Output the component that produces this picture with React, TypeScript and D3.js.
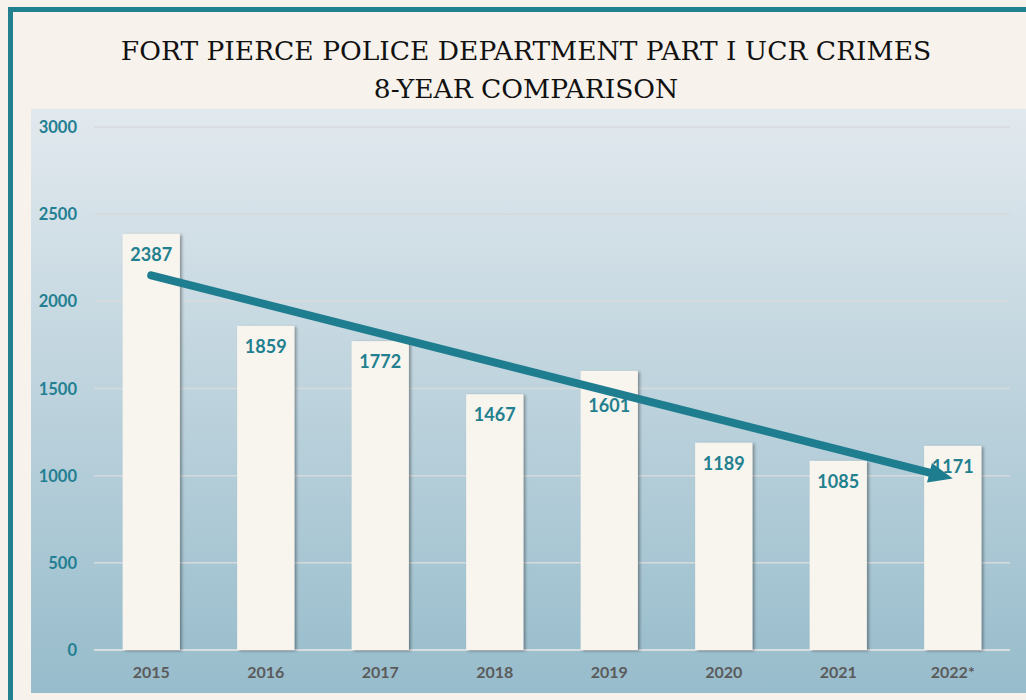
import React, { useEffect, useRef } from "react";
import * as d3 from "d3";

const years = ["2015", "2016", "2017", "2018", "2019", "2020", "2021", "2022*"];
const crimes = [2387, 1859, 1772, 1467, 1601, 1189, 1085, 1171];
const yTicks = [0, 500, 1000, 1500, 2000, 2500, 3000];
const titleLines = ["FORT PIERCE POLICE DEPARTMENT PART I UCR CRIMES", "8-YEAR COMPARISON"];

const W = 1026;
const H = 700;
const teal = "#22808f";

export default function App() {
  const svgRef = useRef<SVGSVGElement>(null);

  useEffect(() => {
    const svg = d3.select(svgRef.current);
    svg.selectAll("*").remove();

    const defs = svg.append("defs");
    const grad = defs.append("linearGradient").attr("id", "bg").attr("x1", 0).attr("y1", 0).attr("x2", 0).attr("y2", 1);
    grad.append("stop").attr("offset", "0%").attr("stop-color", "#e2e9ee");
    grad.append("stop").attr("offset", "100%").attr("stop-color", "#97bccb");
    const f = defs.append("filter").attr("id", "shadow").attr("x", "-20%").attr("y", "-10%").attr("width", "140%").attr("height", "120%");
    f.append("feDropShadow").attr("dx", 2).attr("dy", 1).attr("stdDeviation", 1.5)
      .attr("flood-color", "#000").attr("flood-opacity", 0.35);

    // page + frame
    svg.append("rect").attr("width", W).attr("height", H).attr("fill", "#f7f3ec");
    svg.append("rect").attr("x", 8).attr("y", 7).attr("width", W).attr("height", 5).attr("fill", "#23808f");
    svg.append("rect").attr("x", 8).attr("y", 7).attr("width", 5).attr("height", H).attr("fill", "#23808f");

    // title
    svg.selectAll("text.title")
      .data(titleLines)
      .join("text")
      .attr("class", "title")
      .attr("x", 526)
      .attr("y", (d, i) => 60 + i * 38)
      .attr("text-anchor", "middle")
      .attr("font-family", "DejaVu Serif, serif")
      .attr("font-size", 26.5)
      .attr("fill", "#111")
      .text(d => d);

    // plot background
    svg.append("rect").attr("x", 31).attr("y", 109).attr("width", W - 31).attr("height", 584).attr("fill", "url(#bg)");

    const x = d3.scaleBand().domain(years).range([94, 1010]).paddingInner(0.5).paddingOuter(0.25);
    const y = d3.scaleLinear().domain([0, 3000]).range([650, 127]);

    // grid
    svg.append("g")
      .selectAll("line")
      .data(yTicks)
      .join("line")
      .attr("x1", 94).attr("x2", 1010)
      .attr("y1", d => y(d)).attr("y2", d => y(d))
      .attr("stroke", d => (d === 0 ? "#d8dde0" : "#d7dadc"))
      .attr("stroke-width", d => (d === 0 ? 2 : 1.5));

    svg.append("g")
      .selectAll("text")
      .data(yTicks)
      .join("text")
      .attr("x", 77)
      .attr("y", d => y(d) + 6)
      .attr("text-anchor", "end")
      .attr("font-family", "Lato, sans-serif")
      .attr("font-weight", "bold")
      .attr("font-size", 16.5)
      .attr("fill", "#237f92")
      .text(d => d);

    // bars
    svg.append("g")
      .selectAll("rect")
      .data(crimes)
      .join("rect")
      .attr("x", (d, i) => x(years[i])!)
      .attr("width", x.bandwidth())
      .attr("y", d => y(d))
      .attr("height", d => y(0) - y(d))
      .attr("fill", "#f8f4ee")
      .attr("filter", "url(#shadow)");

    // linear trend
    const idx = crimes.map((_, i) => i);
    const mx = d3.mean(idx)!;
    const my = d3.mean(crimes)!;
    const slope = d3.sum(idx, i => (i - mx) * (crimes[i] - my)) / d3.sum(idx, i => (i - mx) ** 2);
    const fit = (i: number) => my + slope * (i - mx);
    const cx = (i: number) => x(years[i])! + x.bandwidth() / 2;

    // value labels: inside end, moved below the trend line when it runs through the text
    const labelY = (d: number, i: number) => {
      const base = y(d) + 27;
      const ty = y(fit(i));
      if (ty > base - 14 && ty < base) return ty + 21;
      return base;
    };
    svg.append("g")
      .selectAll("text")
      .data(crimes)
      .join("text")
      .attr("x", (d, i) => cx(i))
      .attr("y", (d, i) => labelY(d, i))
      .attr("text-anchor", "middle")
      .attr("font-family", "Lato, sans-serif")
      .attr("font-weight", "bold")
      .attr("font-size", 18)
      .attr("fill", teal)
      .text(d => d);

    svg.append("g")
      .selectAll("text")
      .data(years)
      .join("text")
      .attr("x", d => x(d)! + x.bandwidth() / 2)
      .attr("y", 678)
      .attr("text-anchor", "middle")
      .attr("font-family", "Lato, sans-serif")
      .attr("font-weight", "bold")
      .attr("font-size", 16)
      .attr("fill", "#5b5b5b")
      .text(d => d);

    // trend arrow
    const x0 = cx(0), y0 = y(fit(0));
    const x1 = cx(years.length - 1), y1 = y(fit(years.length - 1));
    const ang = Math.atan2(y1 - y0, x1 - x0);
    const headLen = 24, headW = 10;
    const bx = x1 - headLen * Math.cos(ang), by = y1 - headLen * Math.sin(ang);
    svg.append("line")
      .attr("x1", x0).attr("y1", y0)
      .attr("x2", bx + 2 * Math.cos(ang)).attr("y2", by + 2 * Math.sin(ang))
      .attr("stroke", "#1f7d90").attr("stroke-width", 8).attr("stroke-linecap", "round");
    const nx = -Math.sin(ang), ny = Math.cos(ang);
    svg.append("path")
      .attr("d", d3.line()([
        [x1, y1],
        [bx + nx * headW, by + ny * headW],
        [bx - nx * headW, by - ny * headW],
      ]) + "Z")
      .attr("fill", "#1f7d90");
  }, []);

  return (
    <svg
      ref={svgRef}
      width={W}
      height={H}
      style={{ position: "absolute", left: 0, top: 0, display: "block" }}
    />
  );
}
